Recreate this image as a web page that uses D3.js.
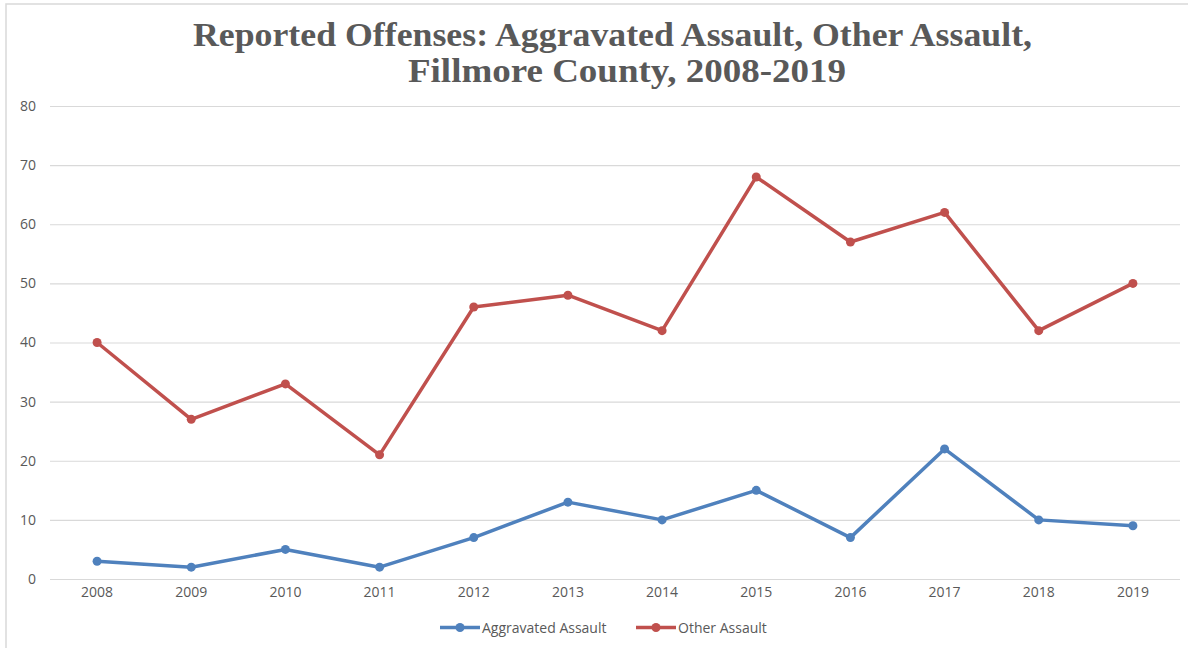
<!DOCTYPE html>
<html>
<head>
<meta charset="utf-8">
<script src="https://cdn.jsdelivr.net/npm/d3@7"></script>
<style>
  html, body { margin: 0; padding: 0; background: #fff; }
  svg { display: block; }
</style>
</head>
<body>
<svg id="chart" width="1188" height="648"></svg>
<script>
// Chart data
const years = ["2008","2009","2010","2011","2012","2013","2014","2015","2016","2017","2018","2019"];
const aggravatedAssault = [3, 2, 5, 2, 7, 13, 10, 15, 7, 22, 10, 9];
const otherAssault = [40, 27, 33, 21, 46, 48, 42, 68, 57, 62, 42, 50];
const yTicks = [0, 10, 20, 30, 40, 50, 60, 70, 80];
const seriesNames = ["Aggravated Assault", "Other Assault"];
const titleLines = ["Reported Offenses: Aggravated Assault, Other Assault,", "Fillmore County, 2008-2019"];

const colors = ["#4F81BD", "#C0504D"];
const series = [aggravatedAssault, otherAssault];

const svg = d3.select("#chart");
const W = 1188, H = 648;
const margin = { left: 50, right: 8, top: 106, bottom: 69 };
const labelFont = "'Open Sans', sans-serif";
const labelSize = 14;

// chart-area frame
svg.append("rect")
  .attr("x", 6).attr("y", 4)
  .attr("width", W + 10).attr("height", H + 10)
  .attr("fill", "#fff")
  .attr("stroke", "#d9d9d9").attr("stroke-width", 1.5);

// title
const title = svg.append("g")
  .attr("font-family", "'Liberation Serif', 'Times New Roman', serif")
  .attr("font-weight", "bold")
  .attr("font-size", 33)
  .attr("fill", "#595959");
title.append("text")
  .attr("x", 193).attr("y", 46)
  .attr("textLength", 839).attr("lengthAdjust", "spacingAndGlyphs")
  .text(titleLines[0]);
title.append("text")
  .attr("x", 408).attr("y", 82)
  .attr("textLength", 438).attr("lengthAdjust", "spacingAndGlyphs")
  .text(titleLines[1]);

const x = d3.scaleBand()
  .domain(years)
  .range([margin.left, W - margin.right]);

const y = d3.scaleLinear()
  .domain([0, 80])
  .range([H - margin.bottom, margin.top]);

// horizontal gridlines
svg.append("g")
  .selectAll("line")
  .data(yTicks)
  .join("line")
  .attr("x1", margin.left).attr("x2", W - margin.right)
  .attr("y1", d => y(d) + 0.5).attr("y2", d => y(d) + 0.5)
  .attr("stroke", "#d9d9d9").attr("stroke-width", 1.2);

// y axis labels
const yAxis = d3.axisLeft(y).tickValues(yTicks).tickSize(0).tickPadding(0);
const yg = svg.append("g")
  .attr("transform", `translate(36,0)`)
  .call(yAxis);
yg.select(".domain").remove();
yg.selectAll("text")
  .attr("font-family", labelFont)
  .attr("font-size", labelSize)
  .attr("fill", "#595959");

// x axis labels
const xAxis = d3.axisBottom(x).tickSize(0).tickPadding(0);
const xg = svg.append("g")
  .attr("transform", `translate(0,${y(0) + 8})`)
  .call(xAxis);
xg.select(".domain").remove();
xg.selectAll("text")
  .attr("font-family", labelFont)
  .attr("font-size", labelSize)
  .attr("fill", "#595959");

// series lines and markers
const line = d3.line()
  .x((d, i) => x(years[i]) + x.bandwidth() / 2)
  .y(d => y(d));

series.forEach((vals, k) => {
  svg.append("path")
    .datum(vals)
    .attr("fill", "none")
    .attr("stroke", colors[k])
    .attr("stroke-width", 3.5)
    .attr("stroke-linejoin", "round")
    .attr("stroke-linecap", "round")
    .attr("d", line);
  svg.append("g")
    .selectAll("circle")
    .data(vals)
    .join("circle")
    .attr("cx", (d, i) => x(years[i]) + x.bandwidth() / 2)
    .attr("cy", d => y(d))
    .attr("r", 4.5)
    .attr("fill", colors[k]);
});

// legend
const legendItems = [
  { name: seriesNames[0], color: colors[0], x0: 440 },
  { name: seriesNames[1], color: colors[1], x0: 636 }
];
const lg = svg.append("g");
legendItems.forEach(it => {
  const g = lg.append("g").attr("transform", `translate(${it.x0},627.5)`);
  g.append("line")
    .attr("x1", 0).attr("x2", 40)
    .attr("stroke", it.color).attr("stroke-width", 3.5);
  g.append("circle").attr("cx", 20).attr("cy", 0).attr("r", 4.5).attr("fill", it.color);
  g.append("text")
    .attr("x", 42).attr("y", 5)
    .attr("font-family", labelFont)
    .attr("font-size", labelSize)
    .attr("fill", "#595959")
    .text(it.name);
});
</script>
</body>
</html>
